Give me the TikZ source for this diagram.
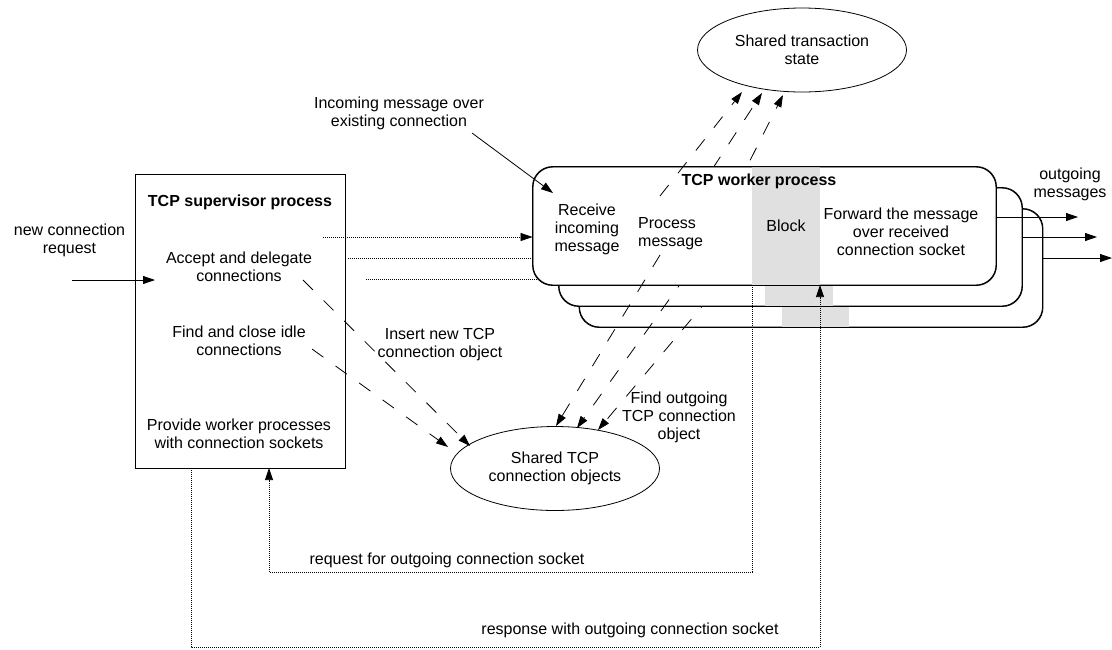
\documentclass[tikz,border=0pt]{standalone}
\usepackage{fontspec}
\setmainfont{Liberation Sans}
\usetikzlibrary{arrows.meta,shapes.geometric}
\begin{document}
\begin{tikzpicture}[x=1pt,y=-1pt,
  every node/.style={inner sep=0pt, font=\fontsize{16}{18}\selectfont, align=center},
  ttl/.style={font=\fontsize{16}{18}\selectfont\bfseries},
  arr/.style={-{Triangle[length=12pt,width=8pt]}},
  ln/.style={line width=0.8pt},
  dsh/.style={line width=0.8pt, dash pattern=on 14pt off 15pt},
  dot/.style={line width=0.7pt, dash pattern=on 1pt off 1pt},
  wbox/.style={draw, line width=0.9pt, fill=white, rounded corners=20pt, minimum width=463pt, minimum height=118pt},
  wedge/.style={line width=0.9pt, rounded corners=20pt},
  strip/.style={fill=black!12},
  ell/.style={draw, ellipse, line width=0.8pt, minimum width=209pt, minimum height=84pt}
]
\useasboundingbox (0,0) rectangle (1112,649);

% supervisor
\node[draw, line width=0.9pt, minimum width=210pt, minimum height=294pt] (sup) at (240,321) {};
\node[ttl] (supt) at (240,202) {TCP supervisor process};
\node (acc) at (239,267) {Accept and delegate\\connections};
\node (fnd) at (239,341) {Find and close idle\\connections};
\node (prv) at (239,434) {Provide worker processes\\with connection sockets};
\node (ncr) at (69.5,240) {new connection\\request};

% coordinates
\coordinate (nr0) at (72,280); \coordinate (nr1) at (155,280);
\coordinate (d1s) at (323,237);
\coordinate (d2s) at (348,258); \coordinate (d2e) at (559,258);
\coordinate (d3s) at (366,279); \coordinate (d3e) at (580,279);
\coordinate (u1s) at (660,196); \coordinate (u1e) at (742,92);
\coordinate (u2s) at (681,217); \coordinate (u2e) at (762,93);
\coordinate (u3s) at (711,238); \coordinate (u3e) at (783,95);
\coordinate (da) at (660,255); \coordinate (dae) at (556,426);
\coordinate (db) at (686,276); \coordinate (dbe) at (577,428);
\coordinate (dc) at (710,297); \coordinate (dce) at (598,430);
\coordinate (ac0) at (303,280); \coordinate (ac1) at (470,446);
\coordinate (fi0) at (312,349); \coordinate (fi1) at (448,447);
\coordinate (in0) at (472,133); \coordinate (in1) at (553,193);
\coordinate (rq0) at (752,285); \coordinate (rq1) at (269,572); \coordinate (rq2) at (269,468);
\coordinate (rs0) at (191,468); \coordinate (rs1) at (820,647); \coordinate (rs2) at (820,285);
\coordinate (o1s) at (996,217); \coordinate (o1e) at (1078,217);
\coordinate (o2s) at (1022,237); \coordinate (o2e) at (1097,237);
\coordinate (o3s) at (1042,258); \coordinate (o3e) at (1112,258);

% hidden dotted lines to back workers
\draw[dot, arr] (d2s) -- (d2e);
\draw[dot, arr] (d3s) -- (d3e);

% third worker
\node[wbox] (w3) at (811,268) {};
\fill[strip] (782,209) rectangle (849,327);
\draw[wedge] (w3.south west) rectangle (w3.north east);
\draw[dsh, arr] (u3s) -- (u3e);
\draw[dsh, arr] (dc) -- (dce);

% second worker
\node[wbox] (w2) at (790.5,247) {};
\fill[strip] (765,188) rectangle (833,306);
\draw[wedge] (w2.south west) rectangle (w2.north east);
\draw[dsh, arr] (u2s) -- (u2e);
\draw[dsh, arr] (db) -- (dbe);

% front worker
\node[wbox] (w1) at (764.5,226) {};
\fill[strip] (752,167) rectangle (820,285);
\draw[wedge] (w1.south west) rectangle (w1.north east);
\node[ttl] (wt) at (759,181) {TCP worker process};
\node (rcv) at (587,229) {Receive\\incoming\\message};
\node[anchor=west, align=left] (prc) at (638,233.5) {Process\\message};
\node (blk) at (786,226) {Block};
\node (fwd) at (901,232) {Forward the message\\over received\\connection socket};
\draw[dsh, arr] (u1s) -- (u1e);
\draw[dsh, arr] (da) -- (dae);

% ellipses
\node[ell] (sts) at (802,50) {Shared transaction\\state};
\node[ell] (sto) at (555,468.5) {Shared TCP\\connection objects};

% other connectors
\draw[ln, arr] (nr0) -- (nr1);
\draw[dot, arr] (d1s) -- (d1s -| w1.west);
\draw[ln, arr] (in0) -- (in1);
\draw[dsh, arr] (ac0) -- (ac1);
\draw[dsh, arr] (fi0) -- (fi1);
\draw[dot, arr] (rq0) |- (rq1) -- (rq2);
\draw[dot, arr] (rs0) |- (rs1) -- (rs2);
\draw[ln, arr] (o1s) -- (o1e);
\draw[ln, arr] (o2s) -- (o2e);
\draw[ln, arr] (o3s) -- (o3e);

% labels
\node (inc) at (399,113) {Incoming message over\\existing connection};
\node (ins) at (440,345) {Insert new TCP\\connection object};
\node (fog) at (679,417) {Find outgoing\\TCP connection\\object};
\node (out) at (1070,184.5) {outgoing\\messages};
\node (req) at (447,560) {request for outgoing connection socket};
\node (rsp) at (630,630) {response with outgoing connection socket};
\end{tikzpicture}
\end{document}
